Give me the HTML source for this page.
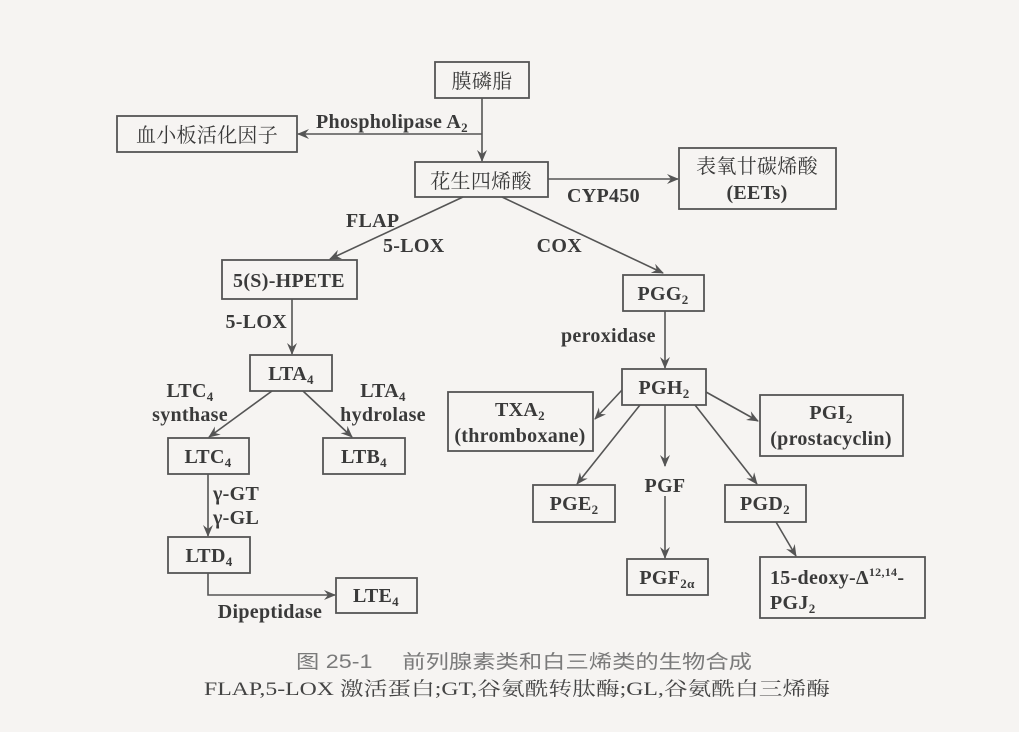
<!DOCTYPE html>
<html><head><meta charset="utf-8"><style>
html,body{margin:0;padding:0;background:#f6f4f2}
svg{display:block}
.t{font-family:"Liberation Serif","Noto Serif CJK SC",serif;fill:#3a3a3a;font-weight:bold}
.c{font-family:"Liberation Serif","Noto Serif CJK SC",serif;fill:#3a3a3a;font-size:20px;font-weight:normal}
rect{fill:none;stroke:#555;stroke-width:1.8}
line,polyline{stroke:#555;stroke-width:1.6;fill:none}
</style></head><body>
<svg width="1019" height="732" viewBox="0 0 1019 732" xmlns="http://www.w3.org/2000/svg">
<defs><marker id="a" markerWidth="12" markerHeight="10" refX="11" refY="5" orient="auto" markerUnits="userSpaceOnUse"><path d="M0,0 L12,5 L0,10 L4,5 Z" fill="#555"/></marker></defs>
<rect x="0" y="0" width="1019" height="732" style="fill:#f6f4f2;stroke:none"/>
<g style="font-size:20px;letter-spacing:0.3px" class="t">
<rect x="435" y="62" width="94" height="36"/><text x="482" y="88" text-anchor="middle" class="c">膜磷脂</text>
<rect x="117" y="116" width="180" height="36"/><text x="207" y="142" text-anchor="middle" class="c">血小板活化因子</text>
<rect x="415" y="162" width="133" height="35"/><text x="481" y="188" text-anchor="middle" class="c">花生四烯酸</text>
<rect x="679" y="148" width="157" height="61"/><text x="757" y="173" text-anchor="middle" class="c">表氧廿碳烯酸</text><text x="757" y="199" text-anchor="middle">(EETs)</text>
<rect x="222" y="260" width="135" height="39"/><text x="289" y="287" text-anchor="middle">5(S)-HPETE</text>
<rect x="623" y="275" width="81" height="36"/><text x="663" y="300" text-anchor="middle">PGG<tspan font-size="13" dy="4">2</tspan></text>
<rect x="622" y="369" width="84" height="36"/><text x="664" y="394" text-anchor="middle">PGH<tspan font-size="13" dy="4">2</tspan></text>
<rect x="448" y="392" width="145" height="59"/><text x="520" y="416" text-anchor="middle">TXA<tspan font-size="13" dy="4">2</tspan></text><text x="520" y="442" text-anchor="middle">(thromboxane)</text>
<rect x="760" y="395" width="143" height="61"/><text x="831" y="419" text-anchor="middle">PGI<tspan font-size="13" dy="4">2</tspan></text><text x="831" y="445" text-anchor="middle">(prostacyclin)</text>
<rect x="533" y="485" width="82" height="37"/><text x="574" y="510" text-anchor="middle">PGE<tspan font-size="13" dy="4">2</tspan></text>
<text x="665" y="492" text-anchor="middle">PGF</text>
<rect x="627" y="559" width="81" height="36"/><text x="667" y="584" text-anchor="middle">PGF<tspan font-size="13" dy="4">2α</tspan></text>
<rect x="725" y="485" width="81" height="37"/><text x="765" y="510" text-anchor="middle">PGD<tspan font-size="13" dy="4">2</tspan></text>
<rect x="760" y="557" width="165" height="61"/><text x="770" y="584">15-deoxy-Δ<tspan font-size="12" dy="-8">12,14</tspan><tspan dy="8">-</tspan></text><text x="770" y="609">PGJ<tspan font-size="13" dy="4">2</tspan></text>
<rect x="250" y="355" width="82" height="36"/><text x="291" y="380" text-anchor="middle">LTA<tspan font-size="13" dy="4">4</tspan></text>
<rect x="168" y="438" width="81" height="36"/><text x="208" y="463" text-anchor="middle">LTC<tspan font-size="13" dy="4">4</tspan></text>
<rect x="323" y="438" width="82" height="36"/><text x="364" y="463" text-anchor="middle">LTB<tspan font-size="13" dy="4">4</tspan></text>
<rect x="168" y="537" width="82" height="36"/><text x="209" y="562" text-anchor="middle">LTD<tspan font-size="13" dy="4">4</tspan></text>
<rect x="336" y="578" width="81" height="35"/><text x="376" y="602" text-anchor="middle">LTE<tspan font-size="13" dy="4">4</tspan></text>
<line x1="482" y1="98" x2="482" y2="161" marker-end="url(#a)"/>
<line x1="482" y1="134" x2="298" y2="134" marker-end="url(#a)"/>
<line x1="548" y1="179" x2="678" y2="179" marker-end="url(#a)"/>
<line x1="463" y1="197" x2="330" y2="259" marker-end="url(#a)"/>
<line x1="502" y1="197" x2="663" y2="273" marker-end="url(#a)"/>
<line x1="665" y1="311" x2="665" y2="368" marker-end="url(#a)"/>
<line x1="292" y1="299" x2="292" y2="354" marker-end="url(#a)"/>
<line x1="272" y1="391" x2="209" y2="437" marker-end="url(#a)"/>
<line x1="303" y1="391" x2="352" y2="437" marker-end="url(#a)"/>
<line x1="208" y1="474" x2="208" y2="536" marker-end="url(#a)"/>
<polyline points="208,573 208,595 335,595" marker-end="url(#a)"/>
<line x1="622" y1="390" x2="595" y2="419" marker-end="url(#a)"/>
<line x1="640" y1="405" x2="577" y2="484" marker-end="url(#a)"/>
<line x1="665" y1="405" x2="665" y2="466" marker-end="url(#a)"/>
<line x1="665" y1="496" x2="665" y2="558" marker-end="url(#a)"/>
<line x1="695" y1="405" x2="757" y2="484" marker-end="url(#a)"/>
<line x1="706" y1="392" x2="758" y2="421" marker-end="url(#a)"/>
<line x1="776" y1="522" x2="796" y2="556" marker-end="url(#a)"/>
<text x="316" y="128">Phospholipase A<tspan font-size="13" dy="4">2</tspan></text>
<text x="567" y="202">CYP450</text>
<text x="346" y="227">FLAP</text>
<text x="383" y="252">5-LOX</text>
<text x="582" y="252" text-anchor="end">COX</text>
<text x="561" y="342">peroxidase</text>
<text x="287" y="328" text-anchor="end">5-LOX</text>
<text x="190" y="397" text-anchor="middle">LTC<tspan font-size="13" dy="4">4</tspan></text>
<text x="190" y="421" text-anchor="middle">synthase</text>
<text x="383" y="397" text-anchor="middle">LTA<tspan font-size="13" dy="4">4</tspan></text>
<text x="383" y="421" text-anchor="middle">hydrolase</text>
<text x="213" y="500">γ-GT</text>
<text x="213" y="524">γ-GL</text>
<text x="270" y="618" text-anchor="middle">Dipeptidase</text>
</g>
<text x="296" y="668" textLength="456" lengthAdjust="spacingAndGlyphs" style="font-family:'Liberation Sans','Noto Sans CJK SC',sans-serif;font-size:19px;fill:#7a7a7a">图 25-1　 前列腺素类和白三烯类的生物合成</text>
<text x="204" y="695" textLength="626" lengthAdjust="spacingAndGlyphs" style="font-family:'Liberation Serif','Noto Serif CJK SC',serif;font-size:19px;fill:#444">FLAP,5-LOX 激活蛋白;GT,谷氨酰转肽酶;GL,谷氨酰白三烯酶</text>
</svg>
</body></html>
